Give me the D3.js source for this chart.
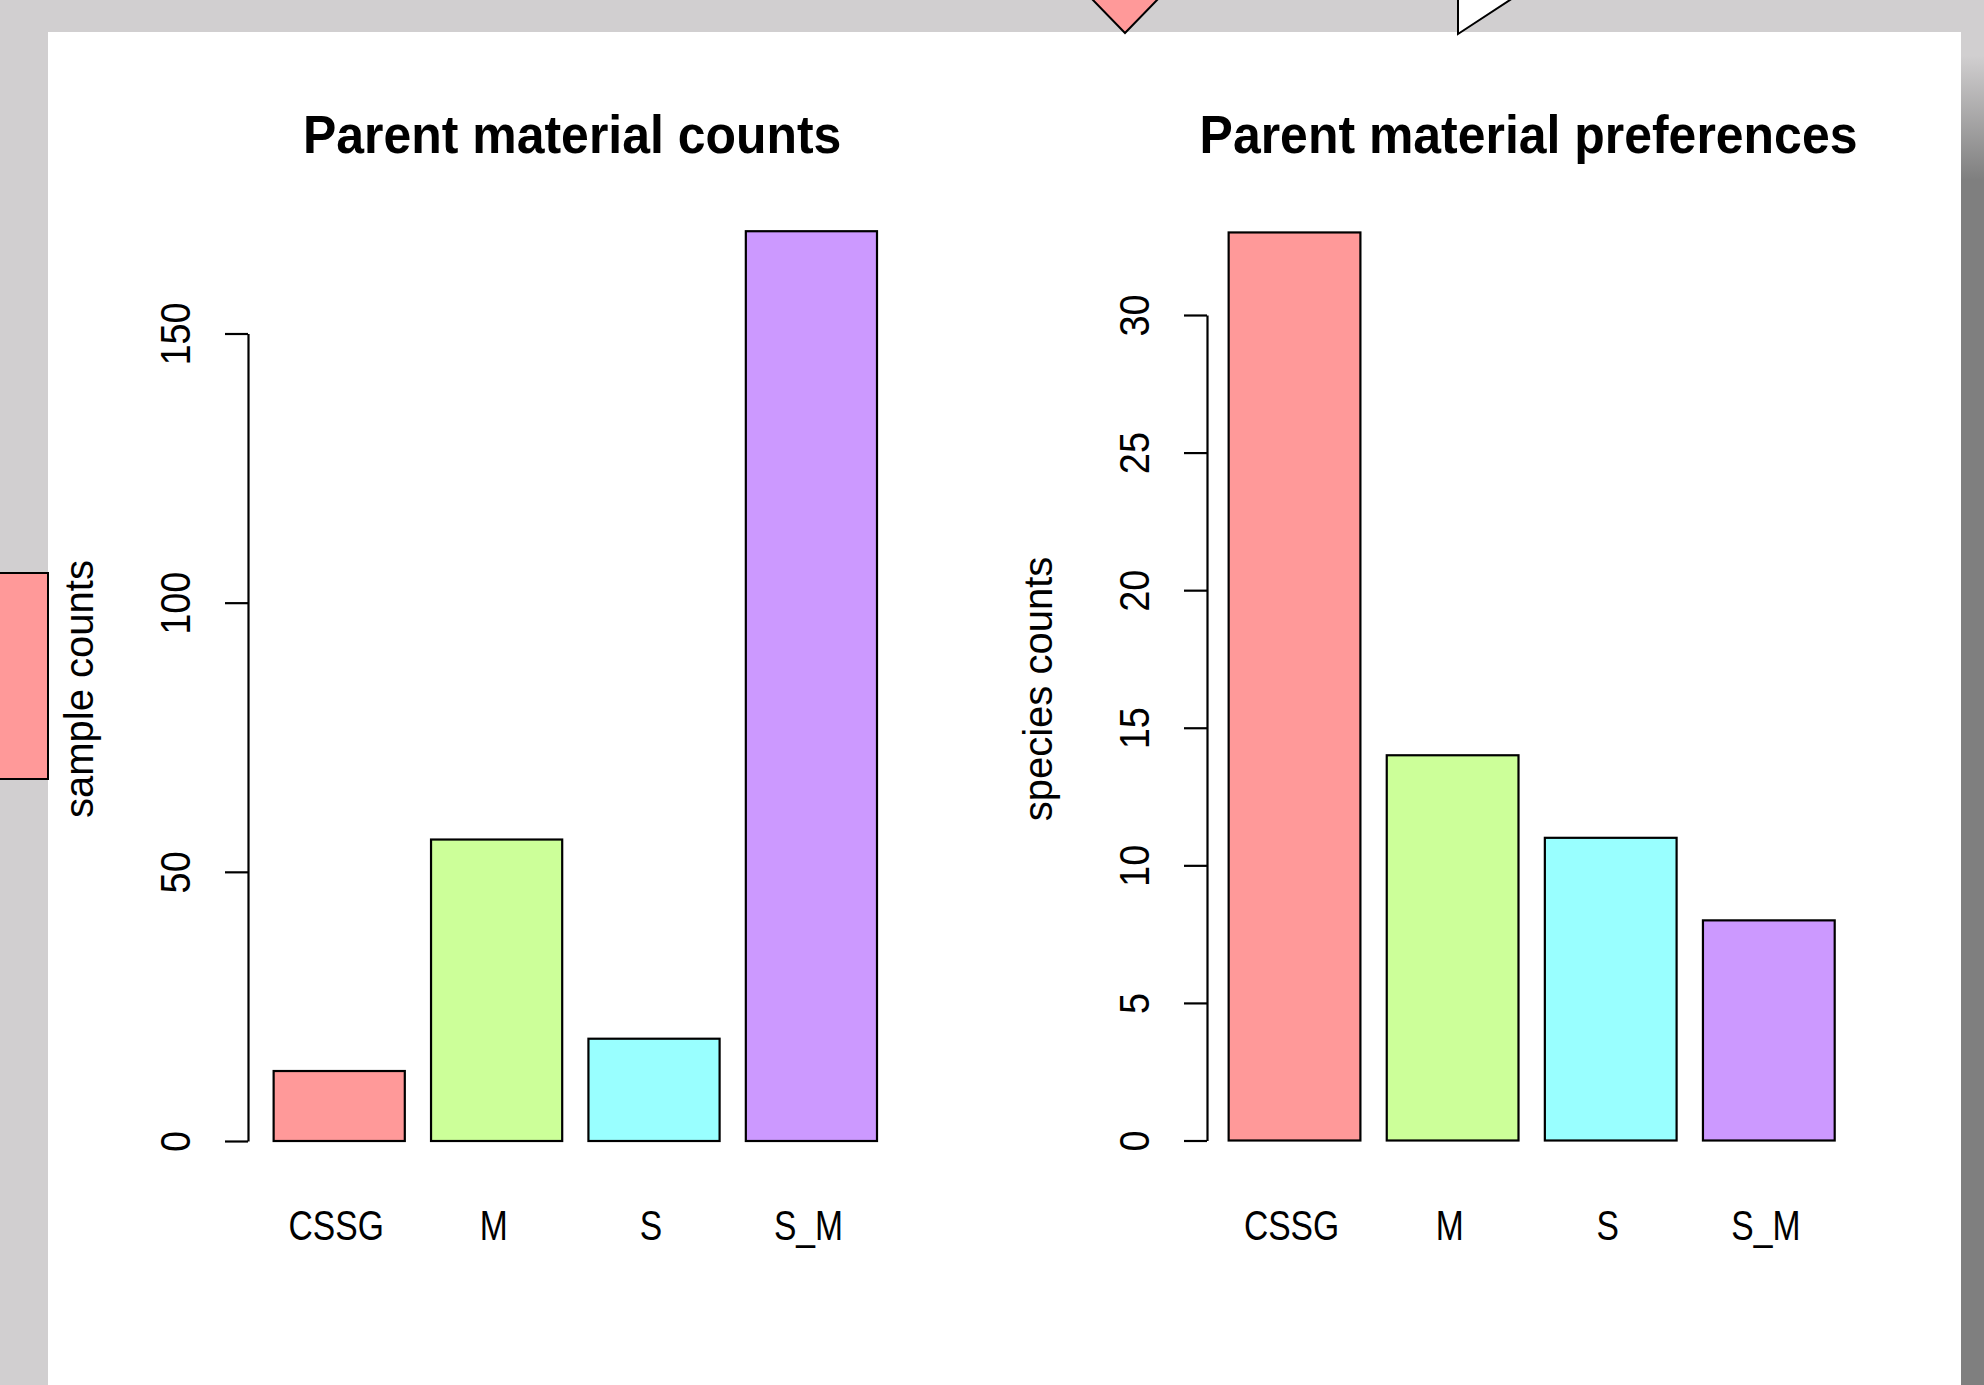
<!DOCTYPE html>
<html>
<head>
<meta charset="utf-8">
<script src="https://cdn.jsdelivr.net/npm/d3@7"></script>
<style>
  html, body { margin: 0; padding: 0; background: #d1cfd0; }
  svg { display: block; }
  text { font-family: "Liberation Sans", Arial, sans-serif; fill: #000; }
</style>
</head>
<body>
<svg id="chart" width="1984" height="1385"></svg>
<script>
// Parent material categories (shared by both panels)
const categories = ["CSSG", "M", "S", "S_M"];
const barColors = ["#FF9999", "#CCFF99", "#99FFFF", "#CC99FF"];

// Left panel: number of samples per parent material
const sampleCounts = [13, 56, 19, 169];
const sampleTicks = [0, 50, 100, 150];

// Right panel: number of species preferring each parent material
const speciesCounts = [33, 14, 11, 8];
const speciesTicks = [0, 5, 10, 15, 20, 25, 30];

const W = 1984, H = 1385;
const svg = d3.select("#chart");

// ---- surrounding frame ----
const defs = svg.append("defs");
const grad = defs.append("linearGradient")
  .attr("id", "edgeFade").attr("x1", 0).attr("y1", 0).attr("x2", 0).attr("y2", 1);
grad.append("stop").attr("offset", "0").attr("stop-color", "#d1cfd0");
grad.append("stop").attr("offset", "0.04").attr("stop-color", "#d1cfd0");
grad.append("stop").attr("offset", "0.13").attr("stop-color", "#7f7f7f");
grad.append("stop").attr("offset", "1").attr("stop-color", "#7f7f7f");

svg.append("rect").attr("x", 0).attr("y", 0).attr("width", W).attr("height", H).attr("fill", "#d1cfd0");
svg.append("rect").attr("x", 1961).attr("y", 0).attr("width", W - 1961).attr("height", H).attr("fill", "url(#edgeFade)");
svg.append("rect").attr("x", 48).attr("y", 32).attr("width", 1961 - 48).attr("height", H - 32).attr("fill", "#ffffff");

// shapes poking in from the neighbouring slides
svg.append("path").attr("d", "M1091,-2 L1159,-2 L1125,33 Z")
  .attr("fill", "#FF9999").attr("stroke", "#000").attr("stroke-width", 2);
svg.append("path").attr("d", "M1458,-2 L1513,-2 L1458,34 Z")
  .attr("fill", "#ffffff").attr("stroke", "#000").attr("stroke-width", 2);
svg.append("rect").attr("x", -3).attr("y", 573).attr("width", 51).attr("height", 206)
  .attr("fill", "#FF9999").attr("stroke", "#000").attr("stroke-width", 2);

// ---- one barplot panel ----
function panel(opts) {
  const g = svg.append("g");
  // bars sit at 0.2 + 1.2*i in bar-width units, like R's barplot
  const x = d3.scaleLinear().domain([0, 4.8]).range(opts.xRange);
  const y = d3.scaleLinear().domain([0, opts.tickMax]).range(opts.yRange);
  const axisX = opts.axisX;

  g.selectAll("rect.bar")
    .data(opts.values)
    .join("rect")
    .attr("class", "bar")
    .attr("x", (d, i) => x(0.2 + 1.2 * i))
    .attr("width", (d, i) => x(1.2 + 1.2 * i) - x(0.2 + 1.2 * i))
    .attr("y", d => y(d))
    .attr("height", d => y(0) - y(d))
    .attr("fill", (d, i) => barColors[i])
    .attr("stroke", "#000")
    .attr("stroke-width", 2.2);

  // y axis
  const ax = g.append("g")
    .attr("transform", `translate(${axisX},0)`)
    .call(d3.axisLeft(y).tickValues(opts.ticks).tickSize(23).tickSizeOuter(0).tickFormat(d3.format("d")));
  ax.select(".domain").attr("stroke", "#000").attr("stroke-width", 2.2);
  ax.selectAll(".tick line").attr("stroke", "#000").attr("stroke-width", 2.2);
  ax.selectAll(".tick text")
    .attr("x", 0).attr("y", 0).attr("dy", "0.36em")
    .attr("text-anchor", "middle")
    .attr("font-size", 43)
    .attr("font-family", "'Liberation Sans', Arial, sans-serif")
    .attr("fill", "#000")
    .attr("transform", "translate(-73,0) rotate(-90) scale(0.88,1)");

  // category labels
  g.selectAll("text.cat")
    .data(categories)
    .join("text")
    .attr("class", "cat")
    .attr("text-anchor", "middle")
    .attr("font-size", 42)
    .attr("transform", (d, i) => `translate(${x(0.7 + 1.2 * i) - 3},1240) scale(0.8,1)`)
    .text(d => d);

  // y axis title
  g.append("text")
    .attr("text-anchor", "middle")
    .attr("font-size", 40)
    .attr("transform", `translate(${axisX - 155},689) rotate(-90)`)
    .text(opts.yTitle);

  // panel title
  const cx = (opts.xRange[0] + opts.xRange[1]) / 2 + 10;
  g.append("text")
    .attr("text-anchor", "middle")
    .attr("font-size", 54)
    .attr("font-weight", "bold")
    .attr("transform", `translate(${cx},153) scale(0.925,1)`)
    .text(opts.title);
}

panel({
  values: sampleCounts,
  ticks: sampleTicks,
  tickMax: 150,
  xRange: [247.4, 877],
  yRange: [1141, 333.5],
  axisX: 248,
  yTitle: "sample counts",
  title: "Parent material counts"
});

panel({
  values: speciesCounts,
  ticks: speciesTicks,
  tickMax: 30,
  xRange: [1202.3, 1834.7],
  yRange: [1140.5, 315],
  axisX: 1207,
  yTitle: "species counts",
  title: "Parent material preferences"
});
</script>
</body>
</html>
